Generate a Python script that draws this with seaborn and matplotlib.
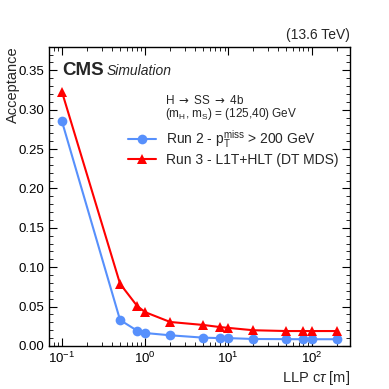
import numpy as np
import pandas as pd
import matplotlib
matplotlib.use("Agg")
import matplotlib.pyplot as plt
import seaborn as sns
from matplotlib.ticker import LogLocator, MultipleLocator, NullFormatter

ctau = [0.1, 0.5, 0.8, 1, 2, 5, 8, 10, 20, 50, 80, 100, 200]
run2 = [0.2855, 0.033, 0.0195, 0.0165, 0.0136, 0.0106, 0.0100, 0.0100, 0.0089, 0.0087, 0.0086, 0.0086, 0.0086]
run3 = [0.323, 0.079, 0.051, 0.043, 0.0305, 0.0267, 0.024, 0.023, 0.020, 0.019, 0.019, 0.019, 0.019]
labels = [r"Run 2 - p$_{\mathrm{T}}^{\mathrm{miss}}$ > 200 GeV", "Run 3 - L1T+HLT (DT MDS)"]

df = pd.DataFrame({
    "ctau": ctau * 2,
    "acc": run2 + run3,
    "series": [labels[0]] * len(ctau) + [labels[1]] * len(ctau),
})

sns.set_theme(style="ticks")
plt.rcParams["font.family"] = ["Liberation Sans", "DejaVu Sans"]
plt.rcParams["mathtext.fontset"] = "custom"
plt.rcParams["mathtext.rm"] = "Liberation Sans"
plt.rcParams["mathtext.it"] = "Liberation Sans:italic"
plt.rcParams["mathtext.cal"] = "DejaVu Sans"

fig = plt.figure(figsize=(3.89, 3.89), dpi=100)
ax = fig.add_axes([49/389, 1-346/389, (350-49)/389, (346-46.7)/389])

sns.lineplot(data=df, x="ctau", y="acc", hue="series", style="series",
             palette={labels[0]: "#5790fc", labels[1]: "#ff0000"},
             markers={labels[0]: "o", labels[1]: "^"},
             dashes=False, markersize=7, markeredgewidth=0, linewidth=1.5, ax=ax)

ax.set_xscale("log")
ax.set_xlim(0.07, 290)
ax.set_ylim(0, 0.38)
ax.yaxis.set_major_locator(MultipleLocator(0.05))
ax.yaxis.set_minor_locator(MultipleLocator(0.01))
ax.xaxis.set_major_locator(LogLocator(base=10))
ax.xaxis.set_minor_locator(LogLocator(base=10, subs=np.arange(2, 10)))
ax.xaxis.set_minor_formatter(NullFormatter())
ax.yaxis.set_major_formatter(matplotlib.ticker.FormatStrFormatter("%.2f"))
ax.tick_params(which="both", direction="in", top=True, right=True, labelsize=9.5, colors="black")
ax.tick_params(which="major", length=6, width=0.8)
ax.tick_params(which="minor", length=3, width=0.6)
for s in ax.spines.values():
    s.set_linewidth(1.0)
    s.set_color("black")

ax.set_xlabel(r"LLP c$\tau$ [m]", fontsize=10.5, loc="right", labelpad=2)
ax.set_ylabel("Acceptance", fontsize=10.5, loc="top")
ax.yaxis.set_label_coords(-0.098, 1.0)

handles, lbls = ax.get_legend_handles_labels()
ax.legend(handles, lbls, loc="upper left", bbox_to_anchor=(0.245, 0.745), frameon=False,
          fontsize=10, handlelength=2.0, labelspacing=0.18, borderaxespad=0, handletextpad=0.7)

ax.text(0.045, 0.905, "CMS", transform=ax.transAxes, fontsize=13.5, fontweight="bold", va="baseline")
ax.text(0.19, 0.905, "Simulation", transform=ax.transAxes, fontsize=10, style="italic", va="baseline")
ax.text(0.385, 0.81, r"H $\mathcal{\rightarrow}$ SS $\mathcal{\rightarrow}$ 4b", transform=ax.transAxes, fontsize=8.5, va="baseline")
ax.text(0.385, 0.765, r"(m$_{\mathrm{H}}$, m$_{\mathrm{S}}$) = (125,40) GeV", transform=ax.transAxes, fontsize=8.5, va="baseline")
ax.text(1.0, 1.015, "(13.6 TeV)", transform=ax.transAxes, fontsize=10, ha="right", va="bottom")

fig.savefig("out.png", dpi=100)
